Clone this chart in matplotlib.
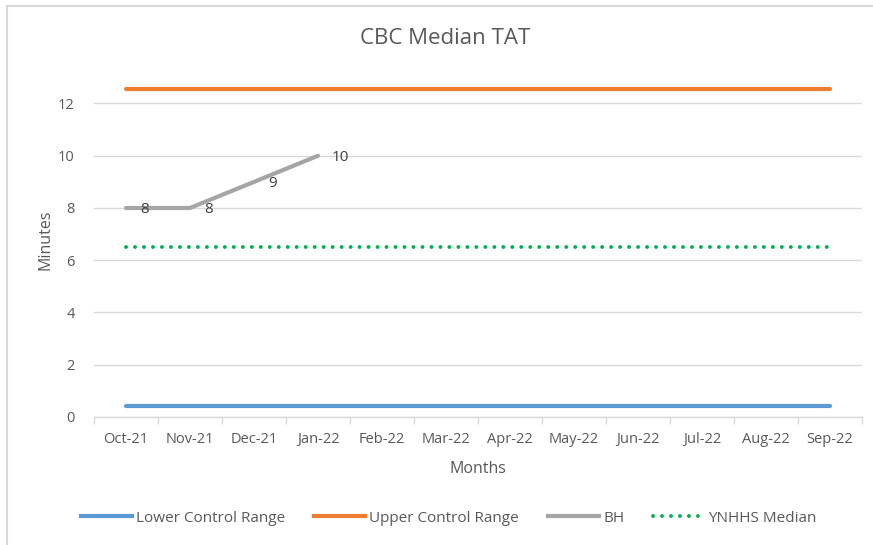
import matplotlib.pyplot as plt
from matplotlib.lines import Line2D
import numpy as np

# Chart data
months = ["Oct-21", "Nov-21", "Dec-21", "Jan-22", "Feb-22", "Mar-22",
          "Apr-22", "May-22", "Jun-22", "Jul-22", "Aug-22", "Sep-22"]
lower_control = [0.42] * 12
upper_control = [12.55] * 12
bh = [8, 8, 9, 10]
ynhhs_median = [6.5] * 12

blue = "#5B9BD5"
orange = "#ED7D31"
gray = "#A5A5A5"
green = "#00B050"
text_col = "#595959"
grid_col = "#D9D9D9"

plt.rcParams['font.family'] = ['Open Sans', 'DejaVu Sans']

fig = plt.figure(figsize=(8.73, 5.45), dpi=100)
ax = fig.add_axes([94 / 873, 1 - 417 / 545, (862 - 94) / 873, (417 - 63) / 545])

x = np.arange(len(months))

ax.plot(x, lower_control, color=blue, lw=3, solid_capstyle='round', label="Lower Control Range")
ax.plot(x, upper_control, color=orange, lw=3, solid_capstyle='round', label="Upper Control Range")
ax.plot(x[:len(bh)], bh, color=gray, lw=3, solid_capstyle='round', label="BH")
ax.plot(x, ynhhs_median, color=green, lw=2.8, linestyle=(0, (0.01, 2.3)),
        dash_capstyle='round', label="YNHHS Median")

# data labels for BH
for xi, v in zip(x[:len(bh)], bh):
    ax.annotate(str(v), (xi, v), xytext=(10, -1), textcoords='offset points',
                ha='left', va='center', fontsize=11, color="#404040")

ax.set_xlim(-0.5, len(months) - 0.5)
ax.set_ylim(0, 13.55)
ax.set_yticks(np.arange(0, 13, 2))
ax.grid(axis='y', color=grid_col, lw=1)
ax.set_axisbelow(True)

# category ticks at boundaries, labels at centers
ax.set_xticks(np.arange(-0.5, len(months), 1))
ax.set_xticklabels([])
ax.set_xticks(x, minor=True)
ax.set_xticklabels(months, minor=True)
ax.tick_params(axis='x', which='major', length=5, color=grid_col, width=1)
ax.tick_params(axis='x', which='minor', length=0, pad=11, labelsize=10.5, labelcolor=text_col)
ax.tick_params(axis='y', length=0, pad=14, labelsize=10.5, labelcolor=text_col)

for s in ['top', 'right', 'left']:
    ax.spines[s].set_visible(False)
ax.spines['bottom'].set_color(grid_col)
ax.spines['bottom'].set_linewidth(1)

ax.set_xlabel("Months", fontsize=11.5, color=text_col, labelpad=10)
ax.set_ylabel("Minutes", fontsize=11.5, color=text_col, labelpad=3)

fig.text(445 / 873, 1 - 38 / 545, "CBC Median TAT", ha='center', va='center',
         fontsize=16, color=text_col)

handles = [Line2D([], [], color=blue, lw=3),
           Line2D([], [], color=orange, lw=3),
           Line2D([], [], color=gray, lw=3),
           Line2D([], [], color=green, lw=2.8, linestyle=(0, (0.01, 2.3)), dash_capstyle='round')]
labels = ["Lower Control Range", "Upper Control Range", "BH", "YNHHS Median"]
fig.legend(handles, labels, loc='center', bbox_to_anchor=(449 / 873, 1 - 518 / 545),
           ncol=4, frameon=False, fontsize=11, labelcolor=text_col,
           handlelength=3.3, handletextpad=0.3, columnspacing=1.9)

# chart border (top and left visible)
fig.add_artist(Line2D([7 / 873, 7 / 873], [0, 1 - 6 / 545], color=grid_col, lw=1.5,
                      transform=fig.transFigure))
fig.add_artist(Line2D([7 / 873, 1], [1 - 6 / 545, 1 - 6 / 545], color=grid_col, lw=1.5,
                      transform=fig.transFigure))

fig.savefig("out.png", dpi=100)
